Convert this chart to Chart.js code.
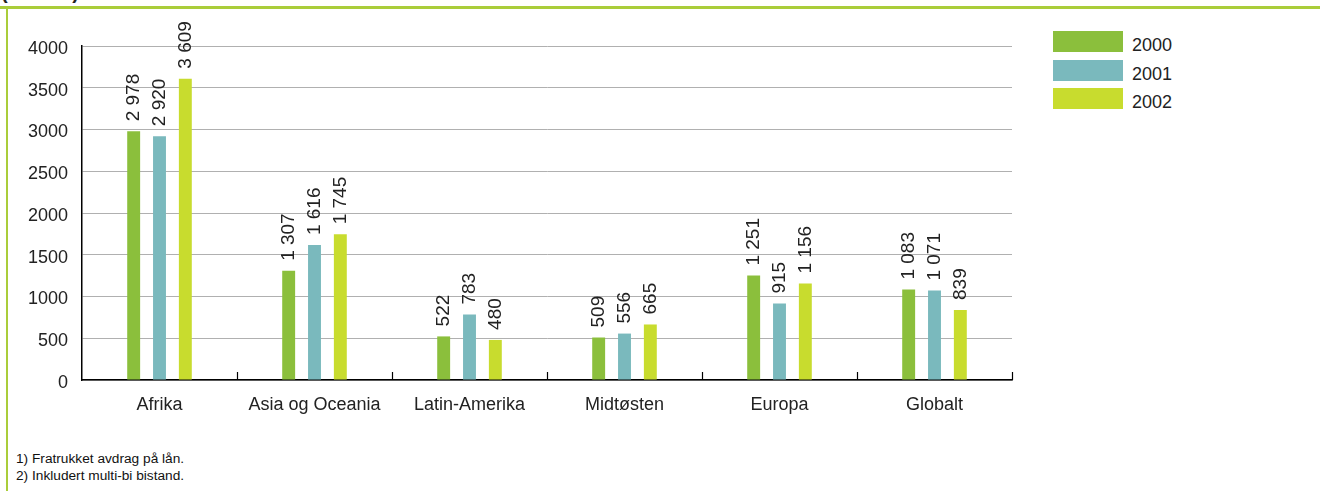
<!DOCTYPE html>
<html>
<head>
<meta charset="utf-8">
<script src="https://cdn.jsdelivr.net/npm/chart.js@4"></script>
<style>
  body { margin: 0; background: #fff; font-family: "Liberation Sans", Arial, sans-serif; }
  #wrap { position: relative; width: 1320px; height: 491px; overflow: hidden; }
  #topline { position: absolute; left: 0; top: 6px; width: 1320px; height: 3px; background: #aacd3a; }
  #leftline { position: absolute; left: 6px; top: 6px; width: 2px; height: 485px; background: #aacd3a; }
  #unit { position: absolute; left: 1px; top: -19px; font-size: 20px; color: #222; font-weight: bold; }
  #chartBox { position: absolute; left: 8px; top: 10px; width: 1030px; height: 410px; }
  #legend { position: absolute; left: 1053px; top: 31px; }
  .item { position: relative; height: 28.5px; }
  .box { position: absolute; left: 0; top: 0; width: 70px; height: 21px; }
  .lab { position: absolute; left: 79px; top: 4px; font-size: 18px; color: #222; }
  .note { position: absolute; left: 16px; font-size: 13.7px; color: #111; }
</style>
</head>
<body>
<div id="wrap">
  <div id="unit">(mill. kr)</div>
  <div id="topline"></div>
  <div id="leftline"></div>
  <div id="chartBox"><canvas id="regionChart"></canvas></div>
  <div id="legend"></div>
  <div class="note" style="top:451px">1) Fratrukket avdrag på lån.</div>
  <div class="note" style="top:468px">2) Inkludert multi-bi bistand.</div>
</div>
<script>
/* data */
var regions = ['Afrika', 'Asia og Oceania', 'Latin-Amerika', 'Midtøsten', 'Europa', 'Globalt'];
var years = ['2000', '2001', '2002'];
var values2000 = [2978, 1307, 522, 509, 1251, 1083];
var values2001 = [2920, 1616, 783, 556, 915, 1071];
var values2002 = [3609, 1745, 480, 665, 1156, 839];
var yearColors = ['#8bbf3c', '#7ab9bd', '#c8dc2e'];

const FONT = '"Liberation Sans", Arial, sans-serif';

/* formats 2978 as "2 978" */
function formatNumber(v) {
    return String(v).replace(/\B(?=(\d{3})+(?!\d))/g, ' ');
}

/* rotated value labels above each bar */
const barLabels = {
    id: 'barLabels',
    afterDatasetsDraw(chart) {
        const ctx = chart.ctx;
        ctx.save();
        ctx.fillStyle = '#222';
        ctx.font = '19px ' + FONT;
        ctx.textAlign = 'left';
        ctx.textBaseline = 'middle';
        chart.data.datasets.forEach((ds, i) => {
            chart.getDatasetMeta(i).data.forEach((bar, j) => {
                ctx.save();
                ctx.translate(bar.x, bar.y - 10);
                ctx.rotate(-Math.PI / 2);
                ctx.fillText(formatNumber(ds.data[j]), 0, 0);
                ctx.restore();
            });
        });
        ctx.restore();
    }
};

/* short upward ticks between the categories */
const categoryTicks = {
    id: 'categoryTicks',
    afterDraw(chart) {
        const x = chart.scales.x;
        const ctx = chart.ctx;
        const n = chart.data.labels.length;
        ctx.save();
        ctx.strokeStyle = '#000';
        ctx.lineWidth = 1.2;
        for (let i = 1; i <= n; i++) {
            const px = Math.round(x.left + i * x.width / n) + 0.5;
            ctx.beginPath();
            ctx.moveTo(px, x.top - 8);
            ctx.lineTo(px, x.top);
            ctx.stroke();
        }
        ctx.restore();
    }
};

/* legend */
var legend = document.getElementById('legend');
years.forEach((y, i) => {
    const item = document.createElement('div');
    item.className = 'item';
    item.innerHTML = '<div class="box" style="background:' + yearColors[i] + '"></div><div class="lab">' + y + '</div>';
    legend.appendChild(item);
});

/* the chart */
const ctx = document.getElementById('regionChart').getContext('2d');
const regionChart = new Chart(ctx, {
    type: 'bar',
    data: {
        labels: regions,
        datasets: [
            { label: years[0], data: values2000, backgroundColor: yearColors[0] },
            { label: years[1], data: values2001, backgroundColor: yearColors[1] },
            { label: years[2], data: values2002, backgroundColor: yearColors[2] }
        ]
    },
    options: {
        responsive: true,
        maintainAspectRatio: false,
        animation: false,
        categoryPercentage: 0.5,
        barPercentage: 0.5,
        layout: { padding: { top: 36, right: 26, left: 0, bottom: 0 } },
        plugins: {
            legend: { display: false },
            tooltip: { enabled: false }
        },
        scales: {
            x: {
                afterFit: (scale) => { scale.height = 40; },
                grid: { display: false, drawTicks: false },
                border: { color: '#000', width: 1.5 },
                ticks: { color: '#222', font: { size: 18, family: FONT }, padding: 14 }
            },
            y: {
                min: 0,
                max: 4000,
                afterFit: (scale) => { scale.width = 74; },
                grid: { color: '#b0b0b0', drawTicks: false },
                border: { color: '#000', width: 1.5 },
                ticks: {
                    stepSize: 500,
                    color: '#222',
                    padding: 14,
                    labelOffset: 3,
                    font: { size: 18, family: FONT },
                    callback: (v) => String(v)
                }
            }
        }
    },
    plugins: [barLabels, categoryTicks]
});
</script>
</body>
</html>
